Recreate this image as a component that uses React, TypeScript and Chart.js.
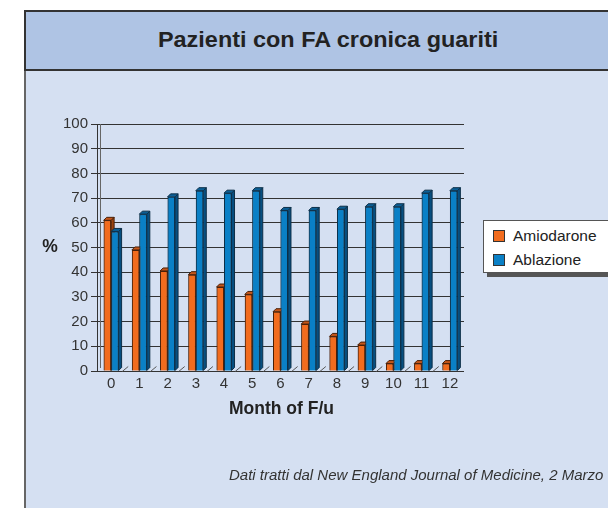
import React, { useEffect, useRef } from "react";
import { Chart, registerables } from "chart.js";

Chart.register(...registerables);

const months = ["0", "1", "2", "3", "4", "5", "6", "7", "8", "9", "10", "11", "12"];
const amiodarone = [61, 49, 40.5, 39, 34, 31, 24, 19, 14, 10.5, 3, 3, 3];
const ablazione = [56.5, 63.5, 70.5, 73, 72, 73, 65, 65, 65.5, 66.5, 66.5, 72, 73];
const seriesNames = ["Amiodarone", "Ablazione"];
const yTicks = [0, 10, 20, 30, 40, 50, 60, 70, 80, 90, 100];

const FONT = "'Liberation Sans', Arial, sans-serif";
const ORANGE = "#f26c1e";
const BLUE = "#0a80c6";

const faces = [
  { top: "#c4561a", side: "#9c440f", edge: "#4a2008" },
  { top: "#0b5f96", side: "#074f80", edge: "#0d2f48" },
];

const threeD = {
  id: "threeD",
  afterDatasetsDraw(chart: any) {
    const ctx = chart.ctx;
    const d = 3;
    const metas = [chart.getDatasetMeta(0), chart.getDatasetMeta(1)];
    const n = metas[0].data.length;
    const area = chart.chartArea;
    ctx.save();
    const xs = chart.scales.x;
    ctx.strokeStyle = "#555";
    ctx.lineWidth = 1;
    for (let i = 1; i < n; i++) {
      const bx = (xs.getPixelForValue(i - 1) + xs.getPixelForValue(i)) / 2;
      ctx.beginPath();
      ctx.moveTo(bx - 3, area.bottom + 0.5);
      ctx.lineTo(bx + 3, area.bottom - 4.5);
      ctx.stroke();
    }
    ctx.strokeStyle = "#666";
    ctx.beginPath();
    ctx.moveTo(area.left + 3.5, area.top);
    ctx.lineTo(area.left + 3.5, area.bottom - 3);
    ctx.stroke();
    for (let j = 0; j < n; j++) {
      for (let k = 0; k < 2; k++) {
        const bar = metas[k].data[j];
        const p = bar.getProps(["x", "y", "base", "width"], true);
        const l = p.x - p.width / 2;
        const r = p.x + p.width / 2;
        const t = p.y;
        const b = p.base;
        const f = faces[k];
        ctx.lineWidth = 1;
        ctx.strokeStyle = f.edge;
        ctx.fillStyle = f.side;
        ctx.beginPath();
        ctx.moveTo(r, t);
        ctx.lineTo(r + d, t - d);
        ctx.lineTo(r + d, b - d);
        ctx.lineTo(r, b);
        ctx.closePath();
        ctx.fill();
        ctx.stroke();
        ctx.fillStyle = f.top;
        ctx.beginPath();
        ctx.moveTo(l, t);
        ctx.lineTo(l + d, t - d);
        ctx.lineTo(r + d, t - d);
        ctx.lineTo(r, t);
        ctx.closePath();
        ctx.fill();
        ctx.stroke();
        bar.draw(ctx);
      }
    }
    ctx.restore();
  },
  afterDraw(chart: any) {
    const ctx = chart.ctx;
    const area = chart.chartArea;
    ctx.save();
    ctx.fillStyle = "#222";
    ctx.font = `bold 17.5px ${FONT}`;
    ctx.textAlign = "center";
    ctx.textBaseline = "middle";
    ctx.fillText("Month of F/u", (area.left + area.right) / 2 + 1, area.bottom + 38);
    ctx.fillText("%", 50, (area.top + area.bottom) / 2);
    ctx.restore();
  },
};

export default function App() {
  const ref = useRef<HTMLCanvasElement | null>(null);
  useEffect(() => {
    if (!ref.current) return;
    const chart = new Chart(ref.current, {
      type: "bar",
      data: {
        labels: months,
        datasets: [
          {
            label: seriesNames[0],
            data: amiodarone,
            backgroundColor: ORANGE,
            borderColor: "#4a2008",
            borderWidth: 1,
            categoryPercentage: 0.53,
            barPercentage: 1,
          },
          {
            label: seriesNames[1],
            data: ablazione,
            backgroundColor: BLUE,
            borderColor: "#0d2f48",
            borderWidth: 1,
            categoryPercentage: 0.53,
            barPercentage: 1,
          },
        ],
      },
      options: {
        responsive: false,
        animation: false,
        layout: { padding: { left: 40, right: 608 - 464, top: 124, bottom: 87 } },
        plugins: {
          legend: { display: false },
          tooltip: { enabled: false },
          title: { display: false },
        },
        scales: {
          x: {
            grid: { display: false, drawTicks: false },
            border: { display: false },
            ticks: { color: "#333", font: { size: 15, family: FONT }, padding: 4 },
            afterFit(s: any) {
              s.height = 50;
            },
          },
          y: {
            min: 0,
            max: 100,
            afterBuildTicks(s: any) {
              s.ticks = yTicks.map((v) => ({ value: v }));
            },
            ticks: { color: "#333", font: { size: 15, family: FONT }, padding: 3 },
            grid: { color: "#333", tickLength: 6, lineWidth: 1 },
            border: { color: "#333" },
            afterFit(s: any) {
              s.width = 57;
            },
          },
        },
      },
      plugins: [threeD],
    } as any);
    return () => chart.destroy();
  }, []);

  return (
    <div
      style={{
        position: "fixed",
        left: 0,
        top: 0,
        width: 608,
        height: 508,
        background: "#fff",
        overflow: "hidden",
        fontFamily: FONT,
      }}
    >
      <div
        style={{
          position: "absolute",
          left: 24,
          top: 10,
          width: 620,
          height: 520,
          background: "#d5e0f2",
          borderLeft: "2px solid #666",
          boxSizing: "border-box",
        }}
      />
      <div
        style={{
          position: "absolute",
          left: 24,
          top: 10,
          width: 606,
          height: 61,
          background: "#afc4e4",
          borderLeft: "2px solid #333",
          borderTop: "2px solid #333",
          borderBottom: "2px solid #333",
          boxSizing: "border-box",
          display: "flex",
          alignItems: "center",
          justifyContent: "center",
          color: "#222",
        }}
      >
        <span
          style={{
            display: "inline-block",
            fontWeight: "bold",
            fontSize: 21.5,
            transform: "scaleX(1.09)",
            marginTop: -1,
          }}
        >
          Pazienti con FA cronica guariti
        </span>
      </div>
      <canvas
        ref={ref}
        width={608}
        height={508}
        style={{ position: "absolute", left: 0, top: 0 }}
      />
      <div
        style={{
          position: "absolute",
          left: 487,
          top: 224,
          width: 130,
          height: 53,
          background: "#555",
        }}
      />
      <div
        style={{
          position: "absolute",
          left: 483,
          top: 220,
          width: 130,
          height: 53,
          background: "#fff",
          border: "1px solid #555",
          boxSizing: "border-box",
          fontSize: 15.5,
          color: "#222",
        }}
      >
        {seriesNames.map((name, i) => (
          <div
            key={name}
            style={{
              position: "absolute",
              left: 9,
              top: i === 0 ? 6 : 30,
              display: "flex",
              alignItems: "center",
              whiteSpace: "nowrap",
            }}
          >
            <span
              style={{
                display: "inline-block",
                width: 10,
                height: 10,
                background: i === 0 ? ORANGE : BLUE,
                border: "1px solid #333",
                marginRight: 8,
              }}
            />
            {name}
          </div>
        ))}
      </div>
      <div
        style={{
          position: "absolute",
          left: 229,
          top: 466,
          fontStyle: "italic",
          fontSize: 15,
          color: "#333",
          whiteSpace: "nowrap",
        }}
      >
        Dati tratti dal New England Journal of Medicine, 2 Marzo
      </div>
    </div>
  );
}
